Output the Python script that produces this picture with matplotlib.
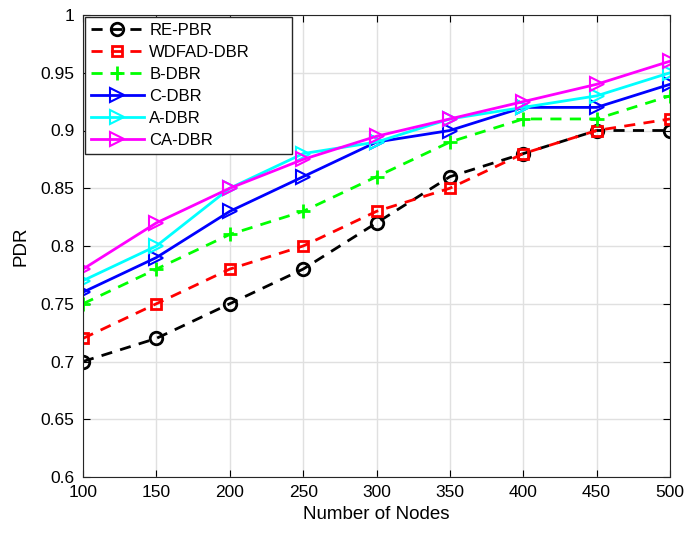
import matplotlib
matplotlib.use("Agg")
import matplotlib.pyplot as plt
from matplotlib.ticker import FuncFormatter

plt.rcParams['font.family'] = ['Liberation Sans', 'DejaVu Sans']

nodes = [100, 150, 200, 250, 300, 350, 400, 450, 500]

re_pbr = [0.70, 0.72, 0.75, 0.78, 0.82, 0.86, 0.88, 0.90, 0.90]
wdfad_dbr = [0.72, 0.75, 0.78, 0.80, 0.83, 0.85, 0.88, 0.90, 0.91]
b_dbr = [0.75, 0.78, 0.81, 0.83, 0.86, 0.89, 0.91, 0.91, 0.93]
c_dbr = [0.76, 0.79, 0.83, 0.86, 0.89, 0.90, 0.92, 0.92, 0.94]
a_dbr = [0.77, 0.80, 0.85, 0.88, 0.89, 0.91, 0.92, 0.93, 0.95]
ca_dbr = [0.78, 0.82, 0.85, 0.875, 0.895, 0.91, 0.925, 0.94, 0.96]

series = [
    ("RE-PBR", re_pbr, "#000000", "o", "--"),
    ("WDFAD-DBR", wdfad_dbr, "#ff0000", "s", "--"),
    ("B-DBR", b_dbr, "#00ff00", "+", "--"),
    ("C-DBR", c_dbr, "#0000ff", ">", "-"),
    ("A-DBR", a_dbr, "#00ffff", ">", "-"),
    ("CA-DBR", ca_dbr, "#ff00ff", ">", "-"),
]

fig = plt.figure(figsize=(6.86, 5.36), dpi=100)
ax = fig.add_axes([83 / 686, 59 / 536, 587 / 686, 462 / 536])

for name, vals, col, mk, ls in series:
    if mk == "+":
        ax.plot(nodes, vals, color=col, linestyle=ls, linewidth=2, marker=mk,
                markersize=10, markeredgewidth=2, label=name, dashes=(4, 3))
    elif ls == "--":
        ms = 9 if mk == "o" else 7
        ax.plot(nodes, vals, color=col, linestyle=ls, linewidth=2, marker=mk,
                markersize=ms, markerfacecolor="none", markeredgewidth=2,
                label=name, dashes=(4, 3))
    else:
        ax.plot(nodes, vals, color=col, linestyle=ls, linewidth=2, marker=mk,
                markersize=10, markerfacecolor="none", markeredgewidth=1.5,
                label=name)

ax.set_xlim(100, 500)
ax.set_ylim(0.6, 1.0)
ax.set_xticks(nodes)
ax.set_yticks([0.6, 0.65, 0.7, 0.75, 0.8, 0.85, 0.9, 0.95, 1.0])
ax.yaxis.set_major_formatter(FuncFormatter(lambda v, p: f"{v:g}"))
ax.grid(True, color="#e0e0e0", linewidth=1)
ax.set_axisbelow(True)
ax.tick_params(direction="in", labelsize=12.5, length=5, top=True, right=True,
               pad=6)
for s in ax.spines.values():
    s.set_color("#262626")
ax.set_xlabel("Number of Nodes", fontsize=13.5, labelpad=4)
ax.set_ylabel("PDR", fontsize=13.5, labelpad=8)

# legend box placed to match the reference (axes fraction)
leg = ax.legend(loc="upper left", bbox_to_anchor=(0.0034, 0.0, 0.353, 0.9957),
                mode="expand", fontsize=12, fancybox=False, framealpha=1,
                edgecolor="#262626", handlelength=3.2, borderaxespad=0.0,
                labelspacing=0.42, borderpad=0.35, handletextpad=0.3)
leg.get_frame().set_linewidth(1)

fig.savefig("out.png", dpi=100)
